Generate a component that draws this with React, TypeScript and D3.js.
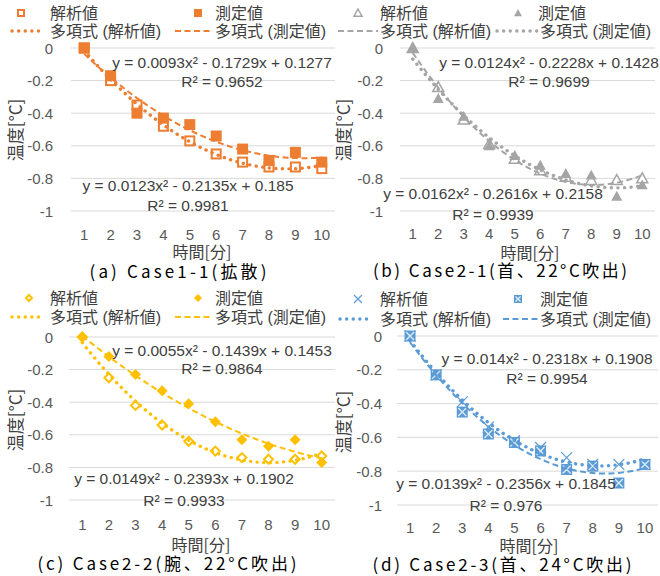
import React from "react";
import * as d3 from "d3";

const categories = [1, 2, 3, 4, 5, 6, 7, 8, 9, 10];
const yTicks = [0, -0.2, -0.4, -0.6, -0.8, -1];
const yTickLabels = ["0", "-0.2", "-0.4", "-0.6", "-0.8", "-1"];
const legendNames = ["解析値", "測定値", "多項式 (解析値)", "多項式 (測定値)"];
const xTitle = "時間[分]";
const yTitle = "温度[°C]";

// (a) Case1-1
const aAnalysis = [0, -0.2, -0.35, -0.48, -0.57, -0.65, -0.7, -0.73, -0.73, -0.74];
const aMeasured = [0, -0.17, -0.4, -0.43, -0.47, -0.54, -0.62, -0.69, -0.64, -0.7];
const aFitAnalysis = [0.0123, -0.2135, 0.185];
const aFitMeasured = [0.0093, -0.1729, 0.1277];
const aEqAnalysis = ["y = 0.0123x² - 0.2135x + 0.185", "R² = 0.9981"];
const aEqMeasured = ["y = 0.0093x² - 0.1729x + 0.1277", "R² = 0.9652"];

// (b) Case2-1
const bAnalysis = [0, -0.24, -0.44, -0.59, -0.68, -0.75, -0.79, -0.81, -0.81, -0.8];
const bMeasured = [0, -0.31, -0.42, -0.6, -0.66, -0.72, -0.77, -0.78, -0.91, -0.84];
const bFitAnalysis = [0.0162, -0.2616, 0.2158];
const bFitMeasured = [0.0124, -0.2228, 0.1428];
const bEqAnalysis = ["y = 0.0162x² - 0.2616x + 0.2158", "R² = 0.9939"];
const bEqMeasured = ["y = 0.0124x² - 0.2228x + 0.1428", "R² = 0.9699"];

// (c) Case2-2
const cAnalysis = [0, -0.25, -0.42, -0.54, -0.64, -0.7, -0.74, -0.75, -0.75, -0.73];
const cMeasured = [0, -0.12, -0.23, -0.33, -0.41, -0.52, -0.63, -0.67, -0.63, -0.77];
const cFitAnalysis = [0.0149, -0.2393, 0.1902];
const cFitMeasured = [0.0055, -0.1439, 0.1453];
const cEqAnalysis = ["y = 0.0149x² - 0.2393x + 0.1902", "R² = 0.9933"];
const cEqMeasured = ["y = 0.0055x² - 0.1439x + 0.1453", "R² = 0.9864"];

// (d) Case2-3
const dAnalysis = [0, -0.23, -0.39, -0.54, -0.62, -0.66, -0.72, -0.76, -0.76, -0.76];
const dMeasured = [0, -0.23, -0.45, -0.58, -0.63, -0.68, -0.79, -0.77, -0.87, -0.76];
const dFitAnalysis = [0.014, -0.2318, 0.1908];
const dFitMeasured = [0.0139, -0.2356, 0.1845];
const dEqAnalysis = ["y = 0.014x² - 0.2318x + 0.1908", "R² = 0.9954"];
const dEqMeasured = ["y = 0.0139x² - 0.2356x + 0.1845", "R² = 0.976"];

const captions = [
  "(a) Case1-1(拡散)",
  "(b) Case2-1(首、22°C吹出)",
  "(c) Case2-2(腕、22°C吹出)",
  "(d) Case2-3(首、24°C吹出)",
];

const LATIN = "'Liberation Sans', 'Noto Sans CJK JP', sans-serif";
const CJK = "'Noto Sans CJK JP', sans-serif";
const TXT = "#404040";

type MarkerKind = "sqOpen" | "sqFill" | "triOpen" | "triFill" | "diaOpen" | "diaFill" | "x" | "sqX";

function Marker({ kind, x, y, s, color }: { kind: MarkerKind; x: number; y: number; s: number; color: string }) {
  const h = s / 2;
  switch (kind) {
    case "sqOpen":
      return <rect x={x - h + 1} y={y - h + 1} width={s - 2} height={s - 2} fill="#fff" stroke={color} strokeWidth={2} />;
    case "sqFill":
      return <rect x={x - h} y={y - h} width={s} height={s} fill={color} />;
    case "triOpen":
      return <path d={`M${x},${y - h}L${x + h},${y + h * 0.8}L${x - h},${y + h * 0.8}Z`} fill="#fff" stroke={color} strokeWidth={1.5} />;
    case "triFill":
      return <path d={`M${x},${y - h}L${x + h},${y + h * 0.8}L${x - h},${y + h * 0.8}Z`} fill={color} />;
    case "diaOpen":
      return <path d={`M${x},${y - h + 1}L${x + h - 1},${y}L${x},${y + h - 1}L${x - h + 1},${y}Z`} fill="#fff" stroke={color} strokeWidth={2} />;
    case "diaFill":
      return <path d={`M${x},${y - h}L${x + h},${y}L${x},${y + h}L${x - h},${y}Z`} fill={color} />;
    case "x":
      return <path d={`M${x - h},${y - h}L${x + h},${y + h}M${x - h},${y + h}L${x + h},${y - h}`} stroke={color} strokeWidth={1.2} fill="none" />;
    case "sqX":
      return (
        <g>
          <rect x={x - h} y={y - h} width={s} height={s} fill={color} />
          <path d={`M${x - h + 1.5},${y - h + 1.5}L${x + h - 1.5},${y + h - 1.5}M${x - h + 1.5},${y + h - 1.5}L${x + h - 1.5},${y - h + 1.5}`} stroke="#DEEBF7" strokeWidth={1.3} />
        </g>
      );
  }
  return null;
}

const DOT = { strokeDasharray: "0.1 6.5", strokeLinecap: "round" as const, strokeWidth: 3.4 };
const DASH = { strokeDasharray: "6 3.5", strokeLinecap: "butt" as const, strokeWidth: 2 };

type PanelCfg = {
  color: string;
  analysis: number[];
  measured: number[];
  fitA: number[];
  fitM: number[];
  eqA: string[];
  eqM: string[];
  mkA: MarkerKind;
  mkM: MarkerKind;
  styleA: "dot" | "dash";
  styleM: "dot" | "dash";
  xRange: [number, number];
  yRange: [number, number];
  tickRight: number;
  xTickY: number;
  titlePos: [number, number];
  capPos: [number, number, number];
  ylabPos: [number, number];
  eqAPos: [number, number, number];
  eqMPos: [number, number, number];
  legY: [number, number];
  legX: { m1: number; t1: number; m2: number; t2: number; l1: [number, number]; t3: number; l2: [number, number]; t4: number };
  caption: string;
};

const panels: PanelCfg[] = [
  {
    color: "#ED7D31", analysis: aAnalysis, measured: aMeasured, fitA: aFitAnalysis, fitM: aFitMeasured,
    eqA: aEqAnalysis, eqM: aEqMeasured, mkA: "sqOpen", mkM: "sqFill", styleA: "dot", styleM: "dash",
    xRange: [71, 335], yRange: [48, 211], tickRight: 53, xTickY: 234,
    titlePos: [202, 251], capPos: [178, 270, 177], ylabPos: [14, 130],
    eqAPos: [188, 185, 205], eqMPos: [222, 62, 81],
    legY: [13, 31],
    legX: { m1: 21, t1: 50, m2: 198, t2: 215, l1: [12, 42], t3: 50, l2: [175, 211], t4: 215 },
    caption: captions[0],
  },
  {
    color: "#A5A5A5", analysis: bAnalysis, measured: bMeasured, fitA: bFitAnalysis, fitM: bFitMeasured,
    eqA: bEqAnalysis, eqM: bEqMeasured, mkA: "triOpen", mkM: "triFill", styleA: "dash", styleM: "dot",
    xRange: [400, 655], yRange: [48, 211], tickRight: 383, xTickY: 233,
    titlePos: [530, 252], capPos: [500, 269, 254], ylabPos: [342, 130],
    eqAPos: [493, 193, 214], eqMPos: [549, 62, 81],
    legY: [13, 31],
    legX: { m1: 358, t1: 380, m2: 518, t2: 538, l1: [338, 378], t3: 380, l2: [497, 537], t4: 540 },
    caption: captions[1],
  },
  {
    color: "#FFC000", analysis: cAnalysis, measured: cMeasured, fitA: cFitAnalysis, fitM: cFitMeasured,
    eqA: cEqAnalysis, eqM: cEqMeasured, mkA: "diaOpen", mkM: "diaFill", styleA: "dot", styleM: "dash",
    xRange: [69, 335], yRange: [337, 500], tickRight: 53, xTickY: 524,
    titlePos: [201, 544], capPos: [167, 562, 259], ylabPos: [14, 420],
    eqAPos: [184, 478, 500], eqMPos: [222, 350, 368],
    legY: [298, 317],
    legX: { m1: 29, t1: 50, m2: 198, t2: 215, l1: [12, 42], t3: 50, l2: [175, 211], t4: 215 },
    caption: captions[2],
  },
  {
    color: "#5B9BD5", analysis: dAnalysis, measured: dMeasured, fitA: dFitAnalysis, fitM: dFitMeasured,
    eqA: dEqAnalysis, eqM: dEqMeasured, mkA: "x", mkM: "sqX", styleA: "dot", styleM: "dash",
    xRange: [397, 658], yRange: [336, 505], tickRight: 382, xTickY: 527,
    titlePos: [529, 545], capPos: [502, 563, 259], ylabPos: [342, 422],
    eqAPos: [547, 358, 378], eqMPos: [506, 483, 505],
    legY: [299, 319],
    legX: { m1: 358, t1: 380, m2: 518, t2: 540, l1: [340, 372], t3: 380, l2: [503, 538], t4: 540 },
    caption: captions[3],
  },
];

function Panel({ p }: { p: PanelCfg }) {
  const x = d3.scalePoint<number>().domain(categories).range(p.xRange).padding(0.5);
  const y = d3.scaleLinear().domain([0, -1]).range(p.yRange);
  const xc = d3.scaleLinear().domain([1, 10]).range([x(1)!, x(10)!]);
  const ts = d3.range(1, 10.0001, 0.1);
  const fitPath = (c: number[]) =>
    d3.line<number>().x((t) => xc(t)).y((t) => y(c[0] * t * t + c[1] * t + c[2]))(ts) || "";
  const sA = p.styleA === "dot" ? DOT : DASH;
  const sM = p.styleM === "dot" ? DOT : DASH;
  const L = p.legX;
  return (
    <g>
      {yTicks.map((v) => (
        <line key={v} x1={p.xRange[0]} x2={p.xRange[1]} y1={y(v)} y2={y(v)} stroke="#D9D9D9" strokeWidth={1} />
      ))}
      {yTicks.map((v, i) => (
        <text key={"t" + v} x={p.tickRight} y={y(v)} textAnchor="end" dominantBaseline="central" fontFamily={LATIN} fontSize={15} fill="#595959">
          {yTickLabels[i]}
        </text>
      ))}
      {categories.map((c) => (
        <text key={"c" + c} x={x(c)} y={p.xTickY} textAnchor="middle" dominantBaseline="central" fontFamily={LATIN} fontSize={15} fill="#595959">
          {c}
        </text>
      ))}
      {p.analysis.map((v, i) => (
        <Marker key={"a" + i} kind={p.mkA} x={x(categories[i])!} y={y(v)} s={11} color={p.color} />
      ))}
      {p.measured.map((v, i) => (
        <Marker key={"m" + i} kind={p.mkM} x={x(categories[i])!} y={y(v)} s={11} color={p.color} />
      ))}
      <path d={fitPath(p.fitA)} fill="none" stroke={p.color} {...sA} />
      <path d={fitPath(p.fitM)} fill="none" stroke={p.color} {...sM} />
      <text x={p.eqMPos[0]} y={p.eqMPos[1]} textAnchor="middle" dominantBaseline="central" fontFamily={LATIN} fontSize={15.5} fill={TXT}>{p.eqM[0]}</text>
      <text x={p.eqMPos[0]} y={p.eqMPos[2]} textAnchor="middle" dominantBaseline="central" fontFamily={LATIN} fontSize={15.5} fill={TXT}>{p.eqM[1]}</text>
      <text x={p.eqAPos[0]} y={p.eqAPos[1]} textAnchor="middle" dominantBaseline="central" fontFamily={LATIN} fontSize={15.5} fill={TXT}>{p.eqA[0]}</text>
      <text x={p.eqAPos[0]} y={p.eqAPos[2]} textAnchor="middle" dominantBaseline="central" fontFamily={LATIN} fontSize={15.5} fill={TXT}>{p.eqA[1]}</text>
      <text x={p.titlePos[0]} y={p.titlePos[1]} textAnchor="middle" dominantBaseline="central" fontFamily={CJK} fontSize={16} fill="#404040">{xTitle}</text>
      <text transform={`translate(${p.ylabPos[0]},${p.ylabPos[1]}) rotate(-90)`} textAnchor="middle" dominantBaseline="central" fontFamily={CJK} fontSize={17} fill="#404040">{yTitle}</text>
      <text x={p.capPos[0]} y={p.capPos[1]} textAnchor="middle" dominantBaseline="central" fontFamily={CJK} fontSize={17} fill="#000" textLength={p.capPos[2]} lengthAdjust="spacing">{p.caption}</text>
      <Marker kind={p.mkA} x={L.m1} y={p.legY[0]} s={8} color={p.color} />
      <text x={L.t1} y={p.legY[0]} dominantBaseline="central" fontFamily={LATIN} fontSize={16} fill="#404040">{legendNames[0]}</text>
      <Marker kind={p.mkM} x={L.m2} y={p.legY[0]} s={8} color={p.color} />
      <text x={L.t2} y={p.legY[0]} dominantBaseline="central" fontFamily={LATIN} fontSize={16} fill="#404040">{legendNames[1]}</text>
      <line x1={L.l1[0]} x2={L.l1[1]} y1={p.legY[1]} y2={p.legY[1]} stroke={p.color} {...sA} />
      <text x={L.t3} y={p.legY[1]} dominantBaseline="central" fontFamily={LATIN} fontSize={16} fill="#404040">{legendNames[2]}</text>
      <line x1={L.l2[0]} x2={L.l2[1]} y1={p.legY[1]} y2={p.legY[1]} stroke={p.color} {...sM} />
      <text x={L.t4} y={p.legY[1]} dominantBaseline="central" fontFamily={LATIN} fontSize={16} fill="#404040">{legendNames[3]}</text>
    </g>
  );
}

export default function App() {
  return (
    <svg width={660} height={576} viewBox="0 0 660 576" style={{ position: "absolute", left: 0, top: 0, background: "#fff" }}>
      <rect width={660} height={576} fill="#fff" />
      {panels.map((p, i) => (
        <Panel key={i} p={p} />
      ))}
    </svg>
  );
}
